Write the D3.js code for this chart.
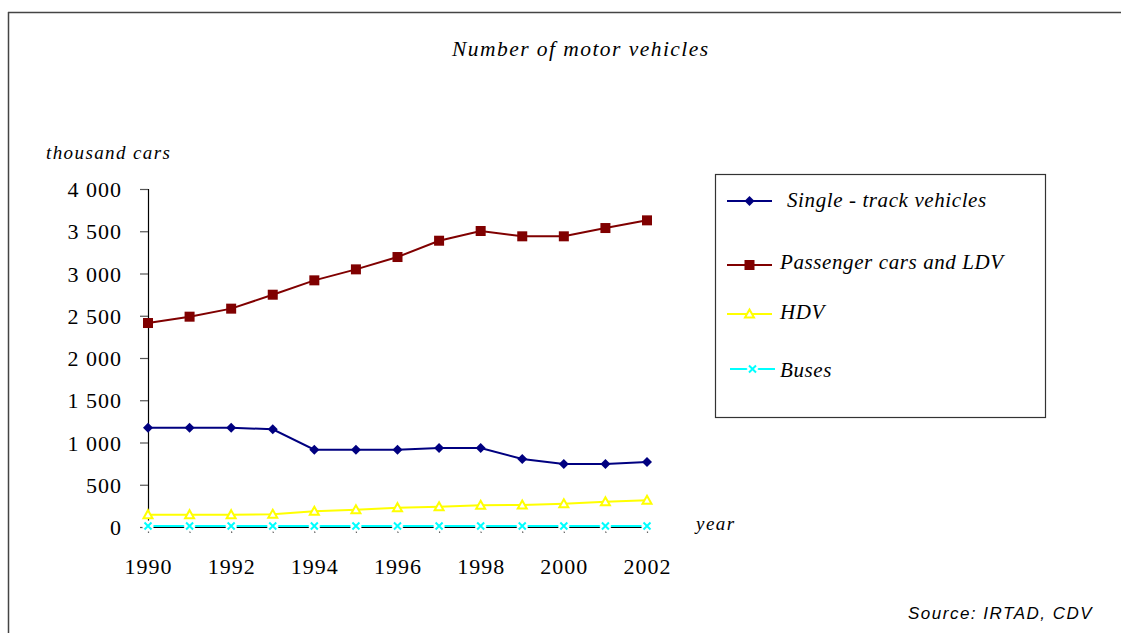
<!DOCTYPE html>
<html><head><meta charset="utf-8">
<script src="https://cdn.jsdelivr.net/npm/d3@7"></script>
<style>html,body{margin:0;padding:0;background:#fff}svg{display:block}</style>
</head><body>
<svg id="c" width="1121" height="633"></svg>
<script>
const years = [1990,1991,1992,1993,1994,1995,1996,1997,1998,1999,2000,2001,2002];
const singleTrack = [1175,1175,1175,1156,915,915,915,935,935,805,745,745,769];
const passengerCars = [2414,2489,2584,2749,2919,3049,3195,3388,3503,3440,3440,3538,3629];
const hdv = [146,146,146,150,186,205,229,240,257,260,276,299,316];
const buses = [12,12,12,12,12,12,12,12,12,12,12,12,12];
const yTicks = [0,500,1000,1500,2000,2500,3000,3500,4000];
const xTickLabels = [1990,1992,1994,1996,1998,2000,2002];
const seriesNames = ["Single - track vehicles","Passenger cars and LDV","HDV","Buses"];

const svg = d3.select("#c");
const serif = "'Liberation Serif','Times New Roman',serif";

// frame
svg.append("line").attr("x1",8).attr("x2",1121).attr("y1",12.5).attr("y2",12.5).attr("stroke","#444").attr("stroke-width",1.5);
svg.append("line").attr("x1",8.5).attr("x2",8.5).attr("y1",12).attr("y2",633).attr("stroke","#444").attr("stroke-width",1.5);

const x = d3.scaleLinear().domain([1990,2002]).range([148,647]);
const y = d3.scaleLinear().domain([0,4000]).range([527,189]);

// title and labels
svg.append("text").attr("x",452).attr("y",56)
  .attr("font-family",serif).attr("font-style","italic").attr("font-size",21.5).attr("letter-spacing",1.45)
  .text("Number of motor vehicles");
svg.append("text").attr("x",46).attr("y",159)
  .attr("font-family",serif).attr("font-style","italic").attr("font-size",19).attr("letter-spacing",1.4)
  .text("thousand cars");
svg.append("text").attr("x",696).attr("y",530)
  .attr("font-family",serif).attr("font-style","italic").attr("font-size",19).attr("letter-spacing",1.5)
  .text("year");
svg.append("text").attr("x",908).attr("y",619)
  .attr("font-family","'Liberation Sans',Arial,sans-serif").attr("font-style","italic").attr("font-size",17).attr("letter-spacing",1.5)
  .text("Source: IRTAD, CDV");

// y axis
const fmt = v => v===0 ? "0" : d3.format(",")(v).replace(",", " ");
const yAxis = svg.append("g").attr("transform","translate(148,0)")
  .call(d3.axisLeft(y).tickValues(yTicks).tickSize(8).tickPadding(18).tickFormat(fmt));
yAxis.select(".domain").attr("stroke","#000").attr("stroke-width",1.2);
yAxis.selectAll(".tick line").attr("stroke","#555").attr("stroke-width",1.2);
yAxis.selectAll(".tick text").attr("font-family",serif).attr("font-size",22).attr("letter-spacing",1).attr("fill","#000").attr("dy","0.35em");

// x axis
const xAxis = svg.append("g").attr("transform","translate(0,527)")
  .call(d3.axisBottom(x).tickValues(years).tickSize(6).tickPadding(25).tickFormat(d => xTickLabels.includes(d) ? d : ""));
xAxis.select(".domain").attr("stroke","#000").attr("stroke-width",1);
xAxis.selectAll(".tick line").attr("stroke","#666").attr("stroke-width",1.2).attr("stroke-dasharray","0,4,2");
xAxis.selectAll(".tick text").attr("font-family",serif).attr("font-size",22).attr("letter-spacing",1).attr("fill","#000");

const series = [
  {name:seriesNames[0], values:singleTrack, color:"#000080", marker:"diamond"},
  {name:seriesNames[1], values:passengerCars, color:"#800000", marker:"square"},
  {name:seriesNames[2], values:hdv, color:"#ffff00", marker:"triangle"},
  {name:seriesNames[3], values:buses, color:"#00ffff", marker:"x"}
];

function drawMarker(g, type, color, cx, cy){
  if(type==="diamond"){
    g.append("path").attr("d",`M${cx},${cy-5}L${cx+5},${cy}L${cx},${cy+5}L${cx-5},${cy}Z`).attr("fill",color);
  } else if(type==="square"){
    g.append("rect").attr("x",cx-5).attr("y",cy-5).attr("width",10).attr("height",10).attr("fill",color);
  } else if(type==="triangle"){
    g.append("path").attr("d",`M${cx},${cy-4.5}L${cx+4.5},${cy+3.5}L${cx-4.5},${cy+3.5}Z`).attr("fill","#fff").attr("stroke",color).attr("stroke-width",2);
  } else {
    g.append("path").attr("d",`M${cx-3.5},${cy-3.5}L${cx+3.5},${cy+3.5}M${cx+3.5},${cy-3.5}L${cx-3.5},${cy+3.5}`)
      .attr("stroke","#fff").attr("stroke-width",7);
    g.append("path").attr("d",`M${cx-3.5},${cy-3.5}L${cx+3.5},${cy+3.5}M${cx+3.5},${cy-3.5}L${cx-3.5},${cy+3.5}`)
      .attr("stroke",color).attr("stroke-width",2);
  }
}

const line = d3.line().x((d,i)=>x(years[i])).y(d=>y(d));
series.forEach(s=>{
  const g = svg.append("g");
  g.append("path").datum(s.values).attr("d",line).attr("fill","none").attr("stroke",s.color).attr("stroke-width",2);
  s.values.forEach((v,i)=>drawMarker(g,s.marker,s.color,x(years[i]),y(v)));
});

// legend
svg.append("rect").attr("x",715.5).attr("y",174.5).attr("width",330).attr("height",243)
  .attr("fill","none").attr("stroke","#333").attr("stroke-width",1.2);
const legY = [201,265,314,369];
const legTextX = [787,780,780,780];
const legBase = [6,3.5,5,8];
const legLine = [[727,772],[727,772],[727,772],[730,775]];
series.forEach((s,i)=>{
  const g = svg.append("g");
  g.append("line").attr("x1",legLine[i][0]).attr("x2",legLine[i][1]).attr("y1",legY[i]).attr("y2",legY[i]).attr("stroke",s.color).attr("stroke-width",2);
  drawMarker(g,s.marker,s.color,(legLine[i][0]+legLine[i][1])/2,legY[i]);
  g.append("text").attr("x",legTextX[i]).attr("y",legY[i]+legBase[i])
    .attr("font-family",serif).attr("font-style","italic").attr("font-size",21).attr("letter-spacing",0.6)
    .text(s.name);
});
</script>
</body></html>
